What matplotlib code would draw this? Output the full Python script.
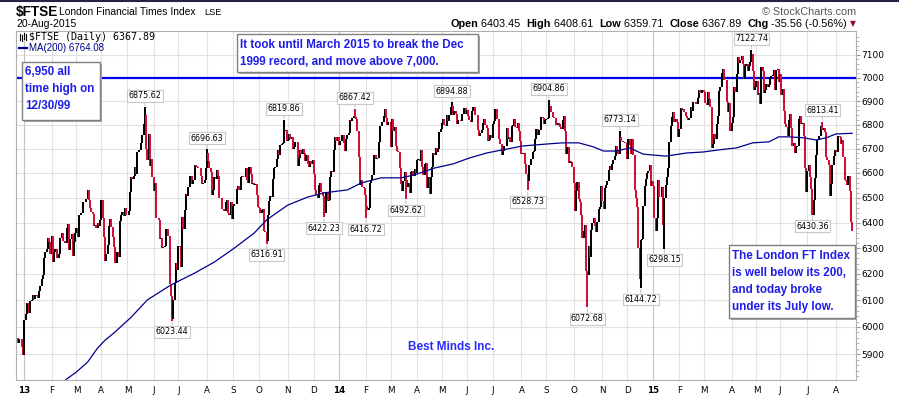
import numpy as np
import pandas as pd
import matplotlib
matplotlib.use("Agg")
import matplotlib.pyplot as plt
from matplotlib.patches import Rectangle
from matplotlib.lines import Line2D
from matplotlib.ticker import FixedLocator, FuncFormatter, NullFormatter

plt.rcParams['font.family'] = ['Liberation Sans', 'DejaVu Sans']

# daily closes of $FTSE (Dec 20 2012 .. Aug 20 2015)
close_2012 = [5958, 5940, 5955, 5954, 5925, 5898]
close_2013 = [
    6027, 6047, 6089, 6084, 6053, 6098, 6101, 6121, 6103, 6118, 6117, 6108, 6133, 6154, 6180, 6197, 6260, 6284, 6295, 6339, 6323, 6276,
    6347, 6246, 6283, 6295, 6263, 6263, 6277, 6338, 6359, 6328, 6329, 6318, 6379, 6395, 6291, 6335, 6356, 6270, 6325, 6361,
    6378, 6345, 6432, 6431, 6439, 6484, 6483, 6481, 6493, 6529, 6490, 6459, 6441, 6433, 6388, 6392, 6378, 6399, 6388, 6412,
    6490, 6420, 6344, 6249, 6276, 6313, 6387, 6416, 6384, 6343, 6305, 6244, 6243, 6286, 6265, 6406, 6431, 6443, 6426, 6458, 6430,
    6431, 6447, 6522, 6584, 6577, 6588, 6624, 6596, 6687, 6693, 6693, 6723, 6756, 6803, 6840, 6697, 6655, 6762, 6627, 6656, 6583,
    6525, 6558, 6419, 6420, 6411, 6337, 6340, 6299, 6304, 6308, 6374, 6374, 6349, 6160, 6116, 6029, 6101, 6165, 6243, 6215,
    6307, 6304, 6228, 6421, 6375, 6450, 6513, 6505, 6544, 6586, 6587, 6556, 6571, 6634, 6630, 6623, 6621, 6620, 6588, 6554, 6560, 6570, 6621,
    6681, 6647, 6620, 6604, 6511, 6529, 6583, 6574, 6612, 6587, 6499, 6499, 6453, 6454, 6446, 6483, 6492, 6440, 6430, 6483, 6413,
    6468, 6474, 6475, 6533, 6547, 6530, 6584, 6588, 6583, 6583, 6622, 6571, 6558, 6625, 6596, 6556, 6558, 6551, 6553, 6512, 6462,
    6460, 6437, 6449, 6454, 6365, 6364, 6327, 6430, 6487, 6507, 6504, 6576, 6622, 6623, 6656, 6696, 6674, 6713, 6721, 6725, 6774, 6777, 6731,
    6734, 6763, 6741, 6747, 6697, 6708, 6726, 6728, 6630, 6660, 6693, 6679, 6697, 6681, 6650, 6675, 6637, 6625, 6650, 6636, 6651,
    6595, 6532, 6509, 6498, 6552, 6559, 6523, 6507, 6445, 6440, 6522, 6486, 6492, 6585, 6606, 6605, 6694, 6750, 6732, 6749,
]
close_2014 = [
    6717, 6731, 6730, 6755, 6722, 6691, 6740, 6757, 6766, 6819, 6815, 6829, 6837, 6834, 6826, 6774, 6664, 6550, 6573, 6544, 6538, 6510,
    6465, 6450, 6458, 6558, 6571, 6591, 6673, 6675, 6659, 6663, 6728, 6796, 6796, 6812, 6838, 6865, 6830, 6799, 6810, 6810,
    6708, 6823, 6775, 6789, 6712, 6689, 6685, 6620, 6553, 6527, 6568, 6605, 6573, 6542, 6557, 6520, 6605, 6606, 6589, 6616, 6598,
    6652, 6659, 6650, 6695, 6623, 6591, 6635, 6641, 6540, 6584, 6515, 6584, 6625, 6681, 6674, 6703, 6685, 6700, 6769, 6780,
    6808, 6823, 6798, 6796, 6839, 6814, 6843, 6873, 6878, 6841, 6856, 6845, 6803, 6821, 6820, 6815, 6844, 6845, 6871, 6845,
    6864, 6836, 6819, 6813, 6858, 6875, 6873, 6843, 6843, 6777, 6754, 6766, 6778, 6808, 6825, 6800, 6787, 6733, 6735, 6757, 6744,
    6802, 6817, 6866, 6823, 6825, 6738, 6718, 6672, 6690, 6711, 6710, 6784, 6738, 6750, 6729, 6796, 6798, 6822, 6792, 6788, 6807, 6773, 6730,
    6679, 6682, 6682, 6636, 6597, 6567, 6632, 6632, 6656, 6687, 6689, 6741, 6780, 6756, 6778, 6776, 6831, 6830, 6805, 6820,
    6826, 6829, 6873, 6877, 6855, 6834, 6830, 6830, 6799, 6806, 6804, 6792, 6780, 6819, 6838, 6773, 6676, 6706, 6639, 6649, 6646, 6623,
    6558, 6446, 6527, 6563, 6495, 6482, 6432, 6340, 6366, 6392, 6212, 6196, 6310, 6267, 6372, 6399, 6419, 6388, 6364, 6402, 6453, 6463, 6546,
    6487, 6453, 6539, 6551, 6567, 6611, 6627, 6611, 6636, 6654, 6671, 6710, 6696, 6679, 6750, 6730, 6730, 6729, 6723, 6723,
    6656, 6742, 6716, 6679, 6742, 6672, 6529, 6500, 6462, 6300, 6182, 6332, 6336, 6466, 6545, 6576, 6598, 6609, 6633, 6547, 6566,
]
close_2015 = [
    6548, 6417, 6366, 6420, 6570, 6502, 6501, 6542, 6389, 6498, 6550, 6585, 6620, 6728, 6796, 6832, 6853, 6811, 6826, 6810, 6749,
    6782, 6871, 6860, 6865, 6853, 6837, 6829, 6818, 6829, 6873, 6857, 6898, 6898, 6888, 6889, 6912, 6949, 6935, 6949, 6947,
    6940, 6890, 6885, 6937, 6911, 6876, 6702, 6721, 6761, 6740, 6804, 6837, 6945, 6962, 7022, 7037, 6991, 6990, 6895, 6855, 6891, 6773,
    6809, 6833, 6961, 6937, 7015, 7089, 7064, 7076, 7097, 7060, 6995, 7053, 7062, 7029, 7053, 7071, 7104, 7030, 6946, 6961,
    6986, 6927, 6933, 6886, 7047, 7030, 6933, 6949, 6973, 6960, 6968, 7000, 7008, 7013, 7032, 6948, 7034, 7040, 6984,
    7015, 6928, 6950, 6859, 6804, 6791, 6754, 6820, 6846, 6784, 6710, 6722, 6680, 6708, 6710, 6825, 6835, 6804, 6807, 6753, 6620, 6521,
    6608, 6631, 6585, 6536, 6432, 6491, 6581, 6673, 6737, 6753, 6753, 6796, 6776, 6788, 6770, 6667, 6655, 6631, 6505, 6556, 6631, 6668, 6696,
    6689, 6686, 6752, 6747, 6719, 6736, 6665, 6571, 6568, 6550, 6586, 6526, 6403, 6368,
]
holidays = ['2012-12-25', '2012-12-26', '2013-01-01', '2013-03-29', '2013-04-01', '2013-05-06',
            '2013-05-27', '2013-08-26', '2013-12-25', '2013-12-26', '2014-01-01', '2014-04-18',
            '2014-04-21', '2014-05-05', '2014-05-26', '2014-08-25', '2014-12-25', '2014-12-26',
            '2015-01-01', '2015-04-03', '2015-04-06', '2015-05-04', '2015-05-25']

# labelled highs / lows (bar index, value)
hi_idx = [103, 153, 215, 272, 350, 428, 485, 591, 648]
hi_val = [6875.62, 6696.63, 6819.86, 6867.42, 6894.88, 6904.86, 6773.14, 7122.74, 6813.41]
lo_idx = [125, 201, 247, 281, 313, 411, 459, 502, 521, 640]
lo_val = [6023.44, 6316.91, 6422.23, 6416.72, 6492.62, 6528.73, 6072.68, 6144.72, 6298.15, 6430.36]

# MA(200)
ma_idx = [33, 40, 48, 57, 65, 71, 78, 92, 105, 124, 143, 159, 175, 191, 201, 218, 234, 247, 266, 277,
          293, 309, 320, 336, 351, 364, 378, 391, 407, 426, 439, 452, 464, 472, 482, 493, 504, 522,
          539, 552, 565, 579, 592, 605, 613, 621, 633, 643, 651, 659, 672]
ma_val = [5780, 5809, 5835, 5871, 5922, 5951, 5977, 6036, 6101, 6158, 6203, 6246, 6300, 6359, 6411, 6470,
          6502, 6519, 6531, 6559, 6580, 6580, 6592, 6620, 6637, 6661, 6682, 6695, 6711, 6719, 6724, 6724,
          6707, 6690, 6690, 6703, 6677, 6669, 6682, 6686, 6695, 6703, 6724, 6728, 6749, 6749, 6745, 6736,
          6745, 6761, 6764]

W, H = 899, 395
BLUE = '#1e1ee8'
RED = '#d0103a'


def fx(x):
    return x / W


def fy(y):
    return 1 - y / H


closes = np.array(close_2012 + close_2013 + close_2014 + close_2015, dtype=float)
dates = pd.bdate_range('2012-12-20', '2015-08-20')
dates = dates[~dates.isin(pd.to_datetime(holidays))]
if len(dates) != len(closes):
    raise SystemExit(f"dates {len(dates)} vs closes {len(closes)}")
idx = np.arange(len(closes))

prev = np.r_[closes[0], closes[:-1]]
lo = np.minimum(prev, closes)
hi = np.maximum(prev, closes)
for i, v in zip(hi_idx, hi_val):
    hi[i] = max(hi[i], v)
for i, v in zip(lo_idx, lo_val):
    lo[i] = min(lo[i], v)
bar_col = np.where(closes >= prev, 'black', RED)

fig = plt.figure(figsize=(W / 100, H / 100), dpi=100)
ax = fig.add_axes([fx(16), fy(380), 840 / W, 349 / H])

ax.set_yscale('log')
ax.set_ylim(5806, 7206)
ax.set_xlim(-0.65, 675.1)

# grid
majors = list(range(5900, 7101, 100))
for v in majors:
    ax.axhline(v, color='#e2e2e2', lw=0.8, zorder=0)
months = dates.month
starts = [k for k in range(1, len(dates)) if months[k] != months[k - 1]]
for k in starts:
    ax.axvline(k, color='#c4c4c4' if months[k] == 1 else '#e2e2e2', lw=0.8, zorder=0)

ax.axhline(7000, color='#0000ee', lw=1.6, zorder=1)

ax.vlines(idx, lo, hi, colors=bar_col, lw=1.45, zorder=2)
ax.plot(ma_idx, ma_val, color='#00008b', lw=0.9, zorder=3)

for i, v in zip(hi_idx, hi_val):
    ax.annotate(f"{v:.2f}", (i, v), xytext=(0, 8), textcoords='offset points',
                ha='center', va='center', fontsize=5.8, family='DejaVu Sans',
                bbox=dict(boxstyle='square,pad=0.18', fc='white', ec='#c8c8c8', lw=0.8),
                arrowprops=dict(arrowstyle='-', color='#c8c8c8', lw=0.8, shrinkA=0, shrinkB=1),
                zorder=4)
for i, v in zip(lo_idx, lo_val):
    ax.annotate(f"{v:.2f}", (i, v), xytext=(0, -8), textcoords='offset points',
                ha='center', va='center', fontsize=5.8, family='DejaVu Sans',
                bbox=dict(boxstyle='square,pad=0.18', fc='white', ec='#c8c8c8', lw=0.8),
                arrowprops=dict(arrowstyle='-', color='#c8c8c8', lw=0.8, shrinkA=0, shrinkB=1),
                zorder=4)

# axes
for s in ax.spines.values():
    s.set_color('#b0b0b0')
    s.set_linewidth(0.8)
ax.yaxis.tick_right()
ax.yaxis.set_major_locator(FixedLocator(majors))
ax.yaxis.set_major_formatter(FuncFormatter(lambda v, p: f"{int(round(v))}"))
ax.yaxis.set_minor_locator(FixedLocator([v for v in range(5820, 7200, 20) if v % 100]))
ax.yaxis.set_minor_formatter(NullFormatter())
ax.tick_params(axis='y', which='major', length=3, color='#999999', labelsize=6.5, pad=1)
ax.tick_params(axis='y', which='minor', length=2, color='#aaaaaa')
for lab in ax.get_yticklabels():
    lab.set_family('DejaVu Sans')

ax.set_xticks(starts)
xl = []
for k in starts:
    d = dates[k]
    xl.append(f"{d.year % 100:02d}" if d.month == 1 else 'JFMAMJJASOND'[d.month - 1])
ax.set_xticklabels(xl)
ax.tick_params(axis='x', length=0, labelsize=6.3, pad=4)
for lab in ax.get_xticklabels():
    lab.set_family('DejaVu Sans')
    if lab.get_text().isdigit():
        lab.set_fontweight('bold')

ax.text((451 - 16) / 840, (380 - 347) / 349, 'Best Minds Inc.', transform=ax.transAxes,
        ha='center', va='center', color='#2a2aff', fontsize=8.5, fontweight='bold')

# legend in plot
for xx, y0, y1 in [(19.5, 34, 40), (21.5, 35, 41), (23.5, 33, 39), (25.5, 34, 40)]:
    fig.add_artist(Line2D([fx(xx), fx(xx)], [fy(y0), fy(y1)], color='black', lw=0.8))
fig.text(fx(29), fy(37), '$FTSE (Daily) 6367.89', family='DejaVu Sans Mono', fontsize=7.2, va='center')
fig.add_artist(Line2D([fx(19), fx(27)], [fy(48), fy(48)], color='#00008b', lw=1.6))
fig.text(fx(29), fy(48), 'MA(200) 6764.08', color='#00008b', fontsize=7, va='center')

# header
fig.add_artist(Line2D([0, 1], [fy(0.5), fy(0.5)], color='#23234a', lw=1.5))
fig.text(fx(16), fy(12), '$FTSE', fontsize=9.8, fontweight='bold', va='center')
fig.text(fx(59), fy(12), 'London Financial Times Index', fontsize=7.4, va='center')
fig.text(fx(204), fy(12.5), 'LSE', fontsize=6.6, va='center')
fig.text(fx(16), fy(24), '20-Aug-2015', fontsize=7.5, va='center')
fig.text(fx(856), fy(12), '\u00a9 StockCharts.com', fontsize=7.8, color='#555555', va='center', ha='right')

pieces = [('Open', True), (' 6403.45  ', False), ('High', True), (' 6408.61  ', False),
          ('Low', True), (' 6359.71  ', False), ('Close', True), (' 6367.89  ', False),
          ('Chg', True), (' -35.56 (-0.56%)', False)]
r = fig.canvas.get_renderer()
txts = []
widths = []
for s, b in pieces:
    t = fig.text(0, fy(24), s, fontsize=7.8, fontweight='bold' if b else 'normal', va='center', ha='left')
    txts.append(t)
    widths.append(t.get_window_extent(r).width)
x = 847 - sum(widths)
for t, w in zip(txts, widths):
    t.set_x(fx(x))
    x += w
fig.text(fx(853), fy(24), '\u25bc', family='DejaVu Sans', fontsize=5.5, color='#8b0a2a', va='center', ha='center')


def note_box(x0, y0, x1, y1, lines, tx, ty0, dy):
    fig.add_artist(Rectangle((fx(x0 + 2), fy(y1 + 2)), (x1 - x0) / W, (y1 - y0) / H,
                             transform=fig.transFigure, fc='#a8a8a8', ec='none', zorder=5))
    fig.add_artist(Rectangle((fx(x0), fy(y1)), (x1 - x0) / W, (y1 - y0) / H,
                             transform=fig.transFigure, fc='white', ec='#808080', lw=1, zorder=6))
    for k, s in enumerate(lines):
        fig.text(fx(tx), fy(ty0 + k * dy), s, color=BLUE, fontsize=8.4, fontweight='bold',
                 va='center', ha='left', zorder=7)


note_box(22, 62, 100, 120, ['6,950 all', 'time high on', '12/30/99'], 25, 72, 17)
note_box(237, 34, 478, 72, ['It took until March 2015 to break the Dec',
                            '1999 record, and move above 7,000.'], 240, 45, 17)
note_box(729, 245, 855, 318, ['The London FT Index', 'is well below its 200,',
                              'and today broke', 'under its July low.'], 732, 256, 17)

fig.savefig('out.png', dpi=100)
